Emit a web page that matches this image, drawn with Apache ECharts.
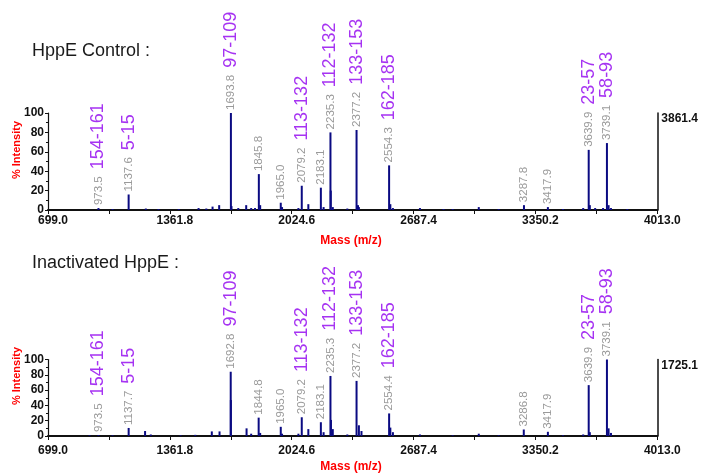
<!DOCTYPE html>
<html>
<head>
<meta charset="utf-8">
<script src="https://cdn.jsdelivr.net/npm/echarts@6/dist/echarts.min.js"></script>
<style>
  html, body { margin: 0; padding: 0; background: #ffffff; }
  #chart { width: 701px; height: 476px; }
</style>
</head>
<body>
<div id="chart"></div>
<script>
// MALDI-TOF spectra of HppE tryptic digests: control vs. inactivated enzyme

// Axis ticks (m/z)
const xTickLabels = [699.0, 1361.8, 2024.6, 2687.4, 3350.2, 4013.0];
const xTickMarks = [699.0, 1030.4, 1361.8, 1693.2, 2024.6, 2356.0, 2687.4, 3018.8, 3350.2, 3681.6, 4013.0];

// HppE Control: annotated peaks
const controlMz = [973.5, 1137.6, 1693.8, 1845.8, 1965.0, 2079.2, 2183.1, 2235.3, 2377.2, 2554.3, 3287.8, 3417.9, 3639.9, 3739.1];
const controlInt = [2, 16, 100, 37, 7.5, 25, 23, 80, 82.5, 46, 5, 3, 62, 69];
const controlFrag = ['154-161', '5-15', '97-109', '', '', '113-132', '', '112-132', '133-153', '162-185', '', '', '23-57', '58-93'];
const controlMaxCounts = '3861.4';

// HppE Control: minor / satellite peaks
const controlMinorMz = [1050, 1231, 1300, 1410, 1518, 1560, 1594, 1630, 1697, 1734, 1777, 1804, 1825, 1853, 1972, 2061, 2115, 2198, 2237, 2248, 2327, 2385, 2390, 2561, 2575, 2722, 2850, 2900, 3042, 3150, 3500, 3610, 3646, 3675, 3718, 3748, 3761, 3850];
const controlMinorInt = [1, 1.5, 1, 1, 2, 1.5, 3.5, 5, 4, 2, 5, 2, 2, 5, 3, 2, 6, 3, 20, 3, 1.5, 5, 3, 6, 2, 2, 1, 1, 3, 1, 1, 2, 5, 2, 2, 5, 2, 1];

// Inactivated HppE: annotated peaks
const inactMz = [973.5, 1137.7, 1692.8, 1844.8, 1965.0, 2079.2, 2183.1, 2235.3, 2377.2, 2554.4, 3286.8, 3417.9, 3639.9, 3739.1];
const inactInt = [1.2, 10.5, 84, 24, 12, 24.5, 18, 78.5, 72, 29.5, 8.5, 5.5, 66.5, 100];
const inactFrag = ['154-161', '5-15', '97-109', '', '', '113-132', '', '112-132', '133-153', '162-185', '', '', '23-57', '58-93'];
const inactMaxCounts = '1725.1';

// Inactivated HppE: minor / satellite peaks
const inactMinorMz = [925, 1050, 1227, 1258, 1420, 1500, 1590, 1632, 1693.6, 1779, 1804, 1853, 1972, 2061, 2115, 2198, 2238, 2248, 2327, 2390, 2404, 2561, 2575, 2722, 2900, 3042, 3150, 3500, 3610, 3646, 3748, 3761];
const inactMinorInt = [1, 1, 6.5, 2, 1, 1.5, 6, 6, 47, 10, 3, 4, 3, 3, 9, 5, 21, 9, 2, 14, 6.5, 11, 5, 2, 1, 3, 1, 1, 2, 5, 10, 4];

const PEAK = '#0a0a82';
const GRAY = '#9a9a9a';
const PURPLE = '#a633f2';
const FONT = 'Liberation Sans, Arial, sans-serif';

function peakData(mz, inten, frag, minorMz, minorInt) {
  const out = [];
  for (let i = 0; i < minorMz.length; i++) out.push([minorMz[i], minorInt[i]]);
  for (let i = 0; i < mz.length; i++) {
    const massText = mz[i].toFixed(1);
    const txt = frag[i] ? '{g|' + massText + '}{p|' + frag[i] + '}' : '{g|' + massText + '}';
    out.push({
      value: [mz[i], inten[i]],
      label: {
        show: true,
        position: 'top',
        rotate: 90,
        align: 'left',
        verticalAlign: 'middle',
        distance: 3,
        formatter: txt,
        rich: {
          g: { color: GRAY, fontSize: 11.5, fontFamily: FONT, verticalAlign: 'middle' },
          p: { color: PURPLE, fontSize: 18, fontFamily: FONT, verticalAlign: 'middle', padding: [0, 0, 0, 7] }
        }
      }
    });
  }
  return out;
}

function xAxisFor(gridIndex, margin) {
  return {
    type: 'value', gridIndex: gridIndex, min: 699.0, max: 4013.0,
    axisLine: { show: true, onZero: false, lineStyle: { color: '#111', width: 2 } },
    axisTick: { show: true, customValues: xTickMarks, length: 4, lineStyle: { color: '#111', width: 1 } },
    axisLabel: {
      customValues: xTickLabels, margin: margin,
      formatter: v => Number(v).toFixed(1),
      color: '#111', fontWeight: 'bold', fontSize: 12, fontFamily: FONT,
      padding: [0, 0, 0, 10]
    },
    splitLine: { show: false }
  };
}

function leftYAxis(gridIndex) {
  return {
    type: 'value', gridIndex: gridIndex, min: 0, max: 100, interval: 20, position: 'left',
    axisLine: { show: true, lineStyle: { color: '#111', width: 1.2 } },
    axisTick: { show: true, length: 3, lineStyle: { color: '#111' } },
    minorTick: { show: true, splitNumber: 2, length: 2, lineStyle: { color: '#111' } },
    axisLabel: { color: '#111', fontWeight: 'bold', fontSize: 12, fontFamily: FONT, margin: 4 },
    splitLine: { show: false }
  };
}

function rightYAxis(gridIndex, countsText) {
  return {
    type: 'value', gridIndex: gridIndex, min: 0, max: 100, position: 'right',
    axisLine: { show: true, lineStyle: { color: '#111', width: 1.5 } },
    axisTick: { show: false },
    axisLabel: {
      customValues: [100], formatter: () => countsText, verticalAlign: 'top',
      color: '#111', fontWeight: 'bold', fontSize: 12, fontFamily: FONT, margin: 4
    },
    splitLine: { show: false }
  };
}

function textEl(text, x, y, font, fill, rotation) {
  return {
    type: 'text', x: x, y: y, rotation: rotation || 0,
    style: { text: text, font: font, fill: fill, align: 'center', verticalAlign: 'middle' }
  };
}

const chart = echarts.init(document.getElementById('chart'), null, { renderer: 'canvas' });

chart.setOption({
  backgroundColor: '#ffffff',
  animation: false,
  grid: [
    { left: 48, top: 113, width: 615, height: 97 },
    { left: 48, top: 359.5, width: 615, height: 76.5 }
  ],
  xAxis: [xAxisFor(0, 5), xAxisFor(1, 9)],
  yAxis: [leftYAxis(0), rightYAxis(0, controlMaxCounts), leftYAxis(1), rightYAxis(1, inactMaxCounts)],
  graphic: [
    { type: 'text', left: 32, top: 42, style: { text: 'HppE Control :', font: '18px ' + FONT, fill: '#1a1a1a' } },
    { type: 'text', left: 32, top: 254, style: { text: 'Inactivated HppE :', font: '18px ' + FONT, fill: '#1a1a1a' } },
    textEl('% Intensity', 17, 150, 'bold 11px ' + FONT, '#ff0000', Math.PI / 2),
    textEl('% Intensity', 17, 376, 'bold 11px ' + FONT, '#ff0000', Math.PI / 2),
    textEl('Mass (m/z)', 351, 241, 'bold 12px ' + FONT, '#ff0000', 0),
    textEl('Mass (m/z)', 351, 467, 'bold 12px ' + FONT, '#ff0000', 0)
  ],
  series: [
    {
      type: 'bar', xAxisIndex: 0, yAxisIndex: 0, barWidth: 2, barGap: '-100%',
      itemStyle: { color: PEAK }, clip: false,
      data: peakData(controlMz, controlInt, controlFrag, controlMinorMz, controlMinorInt)
    },
    {
      type: 'bar', xAxisIndex: 1, yAxisIndex: 2, barWidth: 2, barGap: '-100%',
      itemStyle: { color: PEAK }, clip: false,
      data: peakData(inactMz, inactInt, inactFrag, inactMinorMz, inactMinorInt)
    }
  ]
});
</script>
</body>
</html>
